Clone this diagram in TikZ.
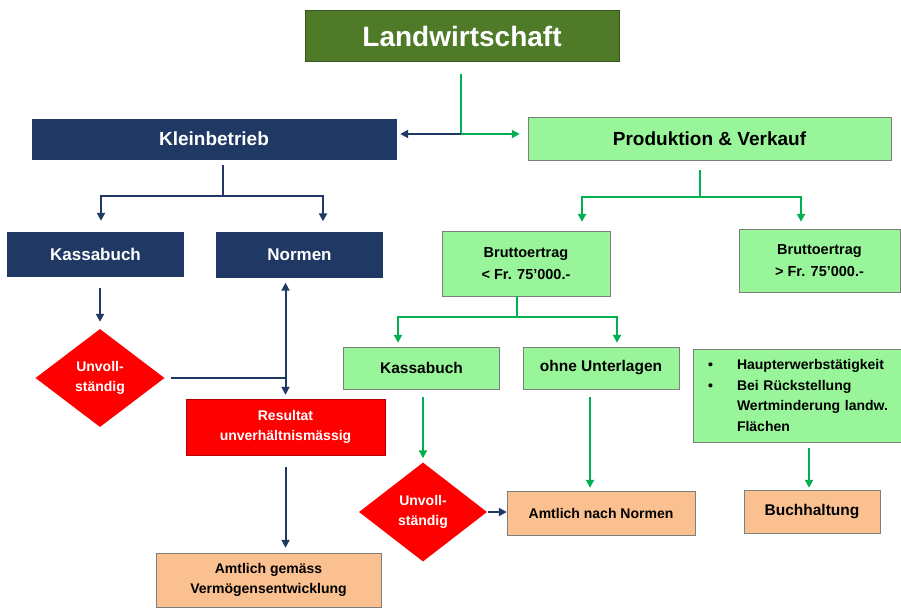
\documentclass[tikz,border=0pt]{standalone}
\usepackage{fontspec}
\setmainfont{Liberation Sans}
\usetikzlibrary{arrows.meta,positioning,shapes.geometric}

\definecolor{lwgreen}{HTML}{4F7A28}
\definecolor{kbnavy}{HTML}{1F3864}
\definecolor{pvgreen}{HTML}{99F599}
\definecolor{lnkgreen}{HTML}{00B050}
\definecolor{amtan}{HTML}{FAC090}
\definecolor{boxgray}{HTML}{7F7F7F}

\begin{document}
\begin{tikzpicture}[
    x=1pt, y=-1pt,
    font=\bfseries\fontsize{14}{20}\selectfont,
    box/.style={draw, inner sep=0pt, align=center},
    navybox/.style={box, fill=kbnavy, draw=kbnavy, text=white, font=\bfseries\fontsize{17}{20}\selectfont},
    grnbox/.style={box, fill=pvgreen, draw=boxgray},
    tanbox/.style={box, fill=amtan, draw=boxgray},
    unvoll/.style={diamond, fill=red, inner sep=0pt, text=white, align=center},
    nlink/.style={draw=kbnavy, line width=2pt},
    glink/.style={draw=lnkgreen, line width=2pt},
    arr/.style={-{Triangle[length=8pt,width=8pt]}},
  ]
    \useasboundingbox (0,0) rectangle (901,607);

    \node[box, fill=lwgreen, draw=lwgreen!70!black, text=white, minimum width=314pt, minimum height=51pt, font=\bfseries\fontsize{28}{30}\selectfont] (land) at (462,36) {Landwirtschaft};

    \node[navybox, minimum width=364pt, minimum height=40pt, font=\bfseries\fontsize{19}{22}\selectfont] (klein) at (214,139) {Kleinbetrieb};
    \node[grnbox, minimum width=363pt, minimum height=43pt, font=\bfseries\fontsize{19}{22}\selectfont] (prod) at (709.5,138.5) {Produktion \& Verkauf};

    \node[navybox, minimum width=176pt, minimum height=44pt] (kbkassa) at (95.5,254) {Kassabuch};
    \node[navybox, minimum width=166pt, minimum height=45pt] (kbnorm) at (299.5,255) {Normen};
    \node[unvoll, minimum width=129pt, minimum height=98pt] (kbunv) at (100,378) {Unvoll-\\ständig};
    \node[box, fill=red, draw=red!70!black, text=white, minimum width=199pt, minimum height=56pt] (result) at (285.5,427) {Resultat\\unverhältnismässig};
    \node[tanbox, minimum width=225pt, minimum height=54pt] (amtverm) at (268.5,580) {Amtlich gemäss\\Vermögensentwicklung};

    \node[grnbox, minimum width=168pt, minimum height=65pt, font=\bfseries\fontsize{14.5}{22}\selectfont] (brklein) at (526,263.5) {Bruttoertrag\\< Fr. 75'000.-};
    \node[grnbox, minimum width=161pt, minimum height=63pt, font=\bfseries\fontsize{14.5}{22}\selectfont] (brgross) at (819.5,260.5) {Bruttoertrag\\> Fr. 75'000.-};
    \node[grnbox, minimum width=156pt, minimum height=42pt, font=\bfseries\fontsize{15.5}{20}\selectfont] (pvkassa) at (421.5,368) {Kassabuch};
    \node[grnbox, minimum width=156pt, minimum height=42pt, font=\bfseries\fontsize{15.5}{20}\selectfont] (ohne) at (601,368) {ohne Unterlagen};
    \node[grnbox, minimum width=208pt, minimum height=93pt, text width=200pt, align=left, font=\bfseries\fontsize{14}{20.5}\selectfont] (haupt) at (797,395.5)
      {\hspace*{11pt}\makebox[29pt][l]{\textbullet}Haupterwerbstätigkeit\\
       \hspace*{11pt}\makebox[29pt][l]{\textbullet}Bei Rückstellung\\
       \hspace*{40pt}Wertminderung landw.\\
       \hspace*{40pt}Flächen};
    \node[unvoll, minimum width=128pt, minimum height=99pt] (pvunv) at (423,512) {Unvoll-\\ständig};
    \node[tanbox, minimum width=188pt, minimum height=44pt] (amtnorm) at (601,513) {Amtlich nach Normen};
    \node[tanbox, minimum width=136pt, minimum height=43pt, font=\bfseries\fontsize{15.5}{20}\selectfont] (buch) at (812,511.5) {Buchhaltung};

    \coordinate (lwsplit) at (461,134);
    \draw[glink, shorten <=12pt] (land.south -| lwsplit) -- (lwsplit);
    \draw[nlink, arr, shorten >=4pt] (lwsplit) -- (lwsplit -| klein.east);
    \draw[glink, arr, shorten >=8pt] (lwsplit) -- (lwsplit -| prod.west);

    \coordinate (kbsplit) at (223,196);
    \draw[nlink, shorten <=6pt] (klein.south -| kbsplit) -- (kbsplit);
    \draw[nlink, arr, shorten >=11pt] (kbsplit) -| ([xshift=5.5pt]kbkassa.north);
    \draw[nlink, arr, shorten >=11pt] (kbsplit) -| ([xshift=23.5pt]kbnorm.north);
    \draw[nlink, arr, shorten <=12pt, shorten >=7pt] (kbunv.north |- kbkassa.south) -- (kbunv.north);
    \draw[nlink, {Triangle[length=8pt,width=8pt]}-{Triangle[length=8pt,width=8pt]}, shorten <=5pt, shorten >=4pt] (result.north |- kbnorm.south) -- (result.north);
    \draw[nlink, shorten <=6pt] (kbunv.east) -- (kbunv.east -| result.north);
    \draw[nlink, arr, shorten <=12pt, shorten >=5pt] (result.south) -- (result.south |- amtverm.north);

    \coordinate (pvsplit) at (700,197);
    \draw[glink, shorten <=10pt] (prod.south -| pvsplit) -- (pvsplit);
    \draw[glink, arr, shorten >=9pt] (pvsplit) -| ([xshift=56pt]brklein.north);
    \draw[glink, arr, shorten >=7pt] (pvsplit) -| ([xshift=-18.5pt]brgross.north);

    \coordinate (btsplit) at (517,317);
    \draw[glink] (brklein.south -| btsplit) -- (btsplit);
    \draw[glink, arr, shorten >=4pt] (btsplit) -| ([xshift=-23.5pt]pvkassa.north);
    \draw[glink, arr, shorten >=4pt] (btsplit) -| ([xshift=16pt]ohne.north);

    \draw[glink, arr, shorten <=8pt, shorten >=4pt] (pvunv.north |- pvkassa.south) -- (pvunv.north);
    \draw[nlink, arr, shorten <=1pt] (pvunv.east) -- (pvunv.east -| amtnorm.west);
    \draw[glink, arr, shorten <=8pt, shorten >=3pt] ([xshift=-11pt]ohne.south) -- ([xshift=-11pt]ohne.south |- amtnorm.north);
    \draw[glink, arr, shorten <=6pt, shorten >=2pt] ([xshift=12pt]haupt.south) -- ([xshift=12pt]haupt.south |- buch.north);
  \end{tikzpicture}
\end{document}
